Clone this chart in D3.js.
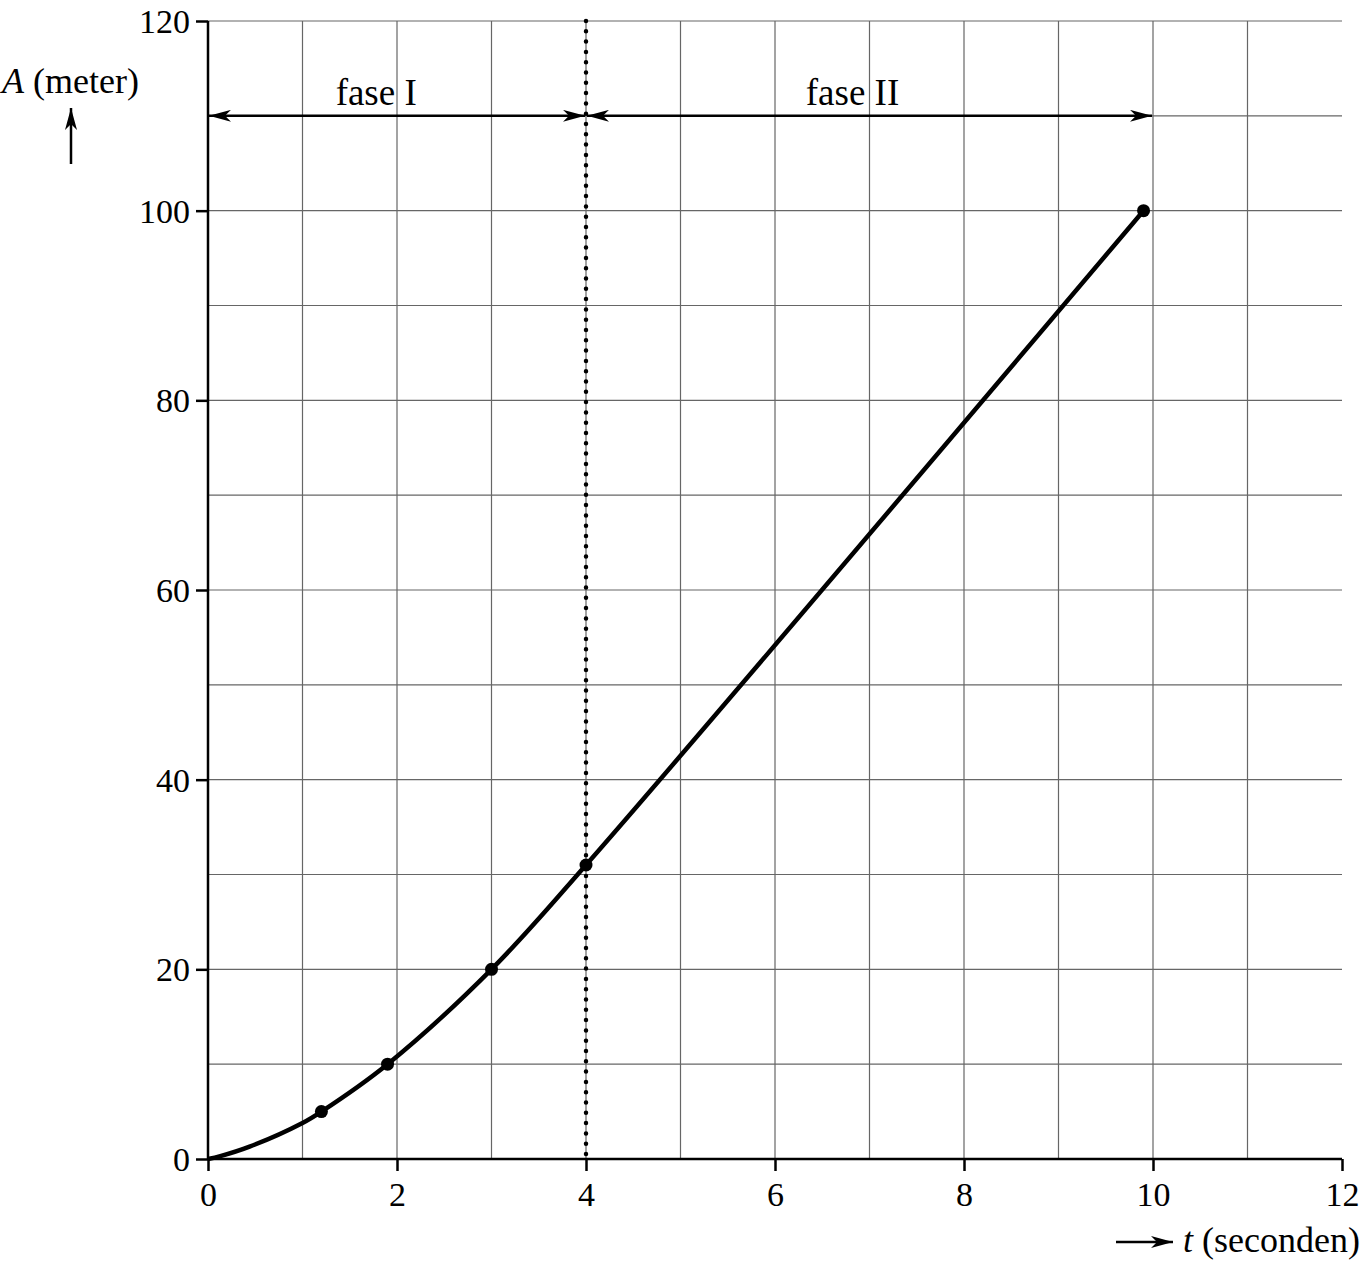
<!DOCTYPE html>
<html>
<head>
<meta charset="utf-8">
<script src="https://cdn.jsdelivr.net/npm/d3@7"></script>
<style>
body { margin: 0; background: #fff; }
text { font-family: "Liberation Serif", "Times New Roman", serif; fill: #000; }
</style>
</head>
<body>
<svg id="chart" width="1362" height="1264"></svg>
<script>
// Data
const curveT = [0, 0.13, 0.44, 1.0, 1.2, 1.9, 3.0, 4.0, 9.9];
const curveA = [0, 0.3, 1.3, 3.8, 5, 10, 20, 31, 100];
const markT = [1.2, 1.9, 3.0, 4.0, 9.9];
const markA = [5, 10, 20, 31, 100];
const xTickLabels = [0, 2, 4, 6, 8, 10, 12];
const yTickLabels = [0, 20, 40, 60, 80, 100, 120];
const phaseNames = ["fase I", "fase II"];
const phaseStart = [0, 4];
const phaseEnd = [4, 10];
const phaseLabelT = [1.78, 6.82];
const phaseArrowA = 110;
const dividerT = 4;

const svg = d3.select("#chart");
const x = d3.scaleLinear().domain([0, 12]).range([208, 1342]);
const y = d3.scaleLinear().domain([0, 120]).range([1159, 21]);

const defs = svg.append("defs");
defs.append("marker").attr("id", "ah").attr("viewBox", "0 0 22 12")
  .attr("refX", 22).attr("refY", 6).attr("markerWidth", 22).attr("markerHeight", 12)
  .attr("markerUnits", "userSpaceOnUse").attr("orient", "auto-start-reverse")
  .append("path").attr("d", "M0,0 L22,6 L0,12 L6,6 Z").attr("fill", "#000");

// Grid
const g = svg.append("g");
g.selectAll(".vg").data(d3.range(1, 12)).join("line")
  .attr("x1", d => x(d)).attr("x2", d => x(d)).attr("y1", y(0)).attr("y2", y(120))
  .attr("stroke", "#666").attr("stroke-width", 1.2);
g.selectAll(".hg").data(d3.range(10, 121, 10)).join("line")
  .attr("x1", x(0)).attr("x2", x(12)).attr("y1", d => y(d)).attr("y2", d => y(d))
  .attr("stroke", "#666").attr("stroke-width", 1.2);

// Axes
const xAxis = d3.axisBottom(x).tickValues(xTickLabels).tickSize(12).tickPadding(8).tickFormat(d3.format("d"));
const yAxis = d3.axisLeft(y).tickValues(yTickLabels).tickSize(12).tickPadding(6).tickFormat(d3.format("d"));
const gx = svg.append("g").attr("transform", `translate(0,${y(0)})`).call(xAxis);
const gy = svg.append("g").attr("transform", `translate(${x(0)},0)`).call(yAxis);
[gx, gy].forEach(a => {
  a.select(".domain").attr("stroke", "#000").attr("stroke-width", 2.5);
  a.selectAll(".tick line").attr("stroke", "#000").attr("stroke-width", 2.5);
  a.selectAll(".tick text").style("font-family", '"Liberation Serif", serif').style("font-size", "34px").attr("fill", "#000");
});
gx.select(".domain").attr("d", `M${x(0)},0H${x(12)}`);
gy.select(".domain").attr("d", `M0,${y(0)}V${y(120)}`);
gy.selectAll(".tick text").attr("dy", "0.34em");
gx.selectAll(".tick text").attr("dy", "0.8em");

// Divider dotted line
svg.append("line").attr("x1", x(dividerT)).attr("x2", x(dividerT))
  .attr("y1", y(120)).attr("y2", y(0))
  .attr("stroke", "#000").attr("stroke-width", 4.5)
  .attr("stroke-linecap", "round").attr("stroke-dasharray", "0 10.3");

// Phase arrows
phaseNames.forEach((name, i) => {
  svg.append("line")
    .attr("x1", x(phaseStart[i]) + 1).attr("x2", x(phaseEnd[i]) - 1)
    .attr("y1", y(phaseArrowA)).attr("y2", y(phaseArrowA))
    .attr("stroke", "#000").attr("stroke-width", 2.5)
    .attr("marker-start", "url(#ah)").attr("marker-end", "url(#ah)");
  svg.append("text").attr("x", x(phaseLabelT[i])).attr("y", y(phaseArrowA) - 11)
    .attr("text-anchor", "middle").style("font-size", "37px").text(name);
});

// Curve
const pts = curveT.map((t, i) => [t, curveA[i]]);
svg.append("path").datum(pts)
  .attr("d", d3.line().x(d => x(d[0])).y(d => y(d[1])).curve(d3.curveCatmullRom.alpha(0.5)))
  .attr("fill", "none").attr("stroke", "#000").attr("stroke-width", 4.5);

svg.selectAll(".mk").data(markT.map((t, i) => [t, markA[i]])).join("circle")
  .attr("cx", d => x(d[0])).attr("cy", d => y(d[1])).attr("r", 6.5).attr("fill", "#000");

// Axis titles
const yt = svg.append("text").attr("x", 2).attr("y", 93).style("font-size", "36px");
yt.append("tspan").style("font-style", "italic").text("A");
yt.append("tspan").text(" (meter)");
svg.append("line").attr("x1", 71).attr("x2", 71).attr("y1", 164).attr("y2", 108)
  .attr("stroke", "#000").attr("stroke-width", 2.5).attr("marker-end", "url(#ah)");

const xt = svg.append("text").attr("x", 1360).attr("y", 1252).attr("text-anchor", "end").style("font-size", "36px");
xt.append("tspan").style("font-style", "italic").text("t");
xt.append("tspan").text(" (seconden)");
svg.append("line").attr("x1", 1116).attr("x2", 1173).attr("y1", 1242).attr("y2", 1242)
  .attr("stroke", "#000").attr("stroke-width", 2.5).attr("marker-end", "url(#ah)");
</script>
</body>
</html>
